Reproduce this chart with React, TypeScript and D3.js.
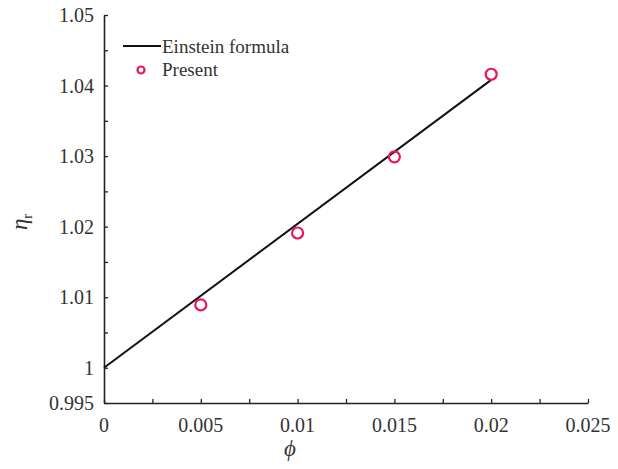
import React, { useEffect, useRef } from 'react';
import * as d3 from 'd3';

// Einstein formula line (endpoints)
const lineData: [number, number][] = [
  [0, 1.0],
  [0.02, 1.0408],
];

// Present results
const presentPhi = [0.005, 0.01, 0.015, 0.02];
const presentEta = [1.0089, 1.0191, 1.0299, 1.0416];

const xTicks = [0, 0.005, 0.01, 0.015, 0.02, 0.025];
const xTickLabels = ['0', '0.005', '0.01', '0.015', '0.02', '0.025'];
const yTicks = [0.995, 1, 1.01, 1.02, 1.03, 1.04, 1.05];
const yTickLabels = ['0.995', '1', '1.01', '1.02', '1.03', '1.04', '1.05'];

const App = () => {
  const svgRef = useRef<SVGSVGElement>(null);

  useEffect(() => {
    const W = 618;
    const H = 469;
    const margin = { top: 15, right: 30, bottom: 66, left: 104 };
    const width = W - margin.left - margin.right;
    const height = H - margin.top - margin.bottom;
    const font = 'Liberation Serif, Times New Roman, serif';
    const red = '#e8175d';

    const svg = d3.select(svgRef.current).attr('width', W).attr('height', H);
    svg.selectAll('*').remove();

    const x = d3.scaleLinear().domain([0, 0.025]).range([0, width]);
    const y = d3.scaleLinear().domain([0.995, 1.05]).range([height, 0]);

    const g = svg.append('g').attr('transform', `translate(${margin.left},${margin.top})`);

    // x axis with inward ticks
    const xAxis = g
      .append('g')
      .attr('transform', `translate(0,${height})`)
      .call(
        d3
          .axisBottom(x)
          .tickValues(d3.range(0, 0.02501, 0.0025))
          .tickSize(-4)
          .tickSizeOuter(0)
          .tickFormat(() => '')
      );
    xAxis.select('.domain').attr('stroke', '#222').attr('stroke-width', 1.6);
    xAxis.selectAll('line').attr('stroke', '#222').attr('stroke-width', 1.3);

    g.selectAll('.xlab')
      .data(xTicks)
      .enter()
      .append('text')
      .attr('x', (d) => x(d))
      .attr('y', height + 29)
      .attr('text-anchor', 'middle')
      .style('font-family', font)
      .style('font-size', '20px')
      .attr('fill', '#333')
      .text((d, i) => xTickLabels[i]);

    // y axis with inward ticks
    const yAxis = g
      .append('g')
      .call(
        d3
          .axisLeft(y)
          .tickValues(d3.range(0.995, 1.05001, 0.005))
          .tickSize(-4)
          .tickSizeOuter(0)
          .tickFormat(() => '')
      );
    yAxis.select('.domain').attr('stroke', '#222').attr('stroke-width', 1.6);
    yAxis.selectAll('line').attr('stroke', '#222').attr('stroke-width', 1.3);

    g.selectAll('.ylab')
      .data(yTicks)
      .enter()
      .append('text')
      .attr('x', -10)
      .attr('y', (d) => y(d))
      .attr('dy', '0.35em')
      .attr('text-anchor', 'end')
      .style('font-family', font)
      .style('font-size', '20px')
      .attr('fill', '#333')
      .text((d, i) => yTickLabels[i]);

    // Einstein line
    const line = d3
      .line<[number, number]>()
      .x((d) => x(d[0]))
      .y((d) => y(d[1]));
    g.append('path')
      .datum(lineData)
      .attr('d', line)
      .attr('fill', 'none')
      .attr('stroke', '#111')
      .attr('stroke-width', 2);

    // Present points
    g.selectAll('.pt')
      .data(presentPhi)
      .enter()
      .append('circle')
      .attr('cx', (d) => x(d))
      .attr('cy', (d, i) => y(presentEta[i]))
      .attr('r', 5.5)
      .attr('fill', 'none')
      .attr('stroke', red)
      .attr('stroke-width', 2.2);

    // legend
    const lg = svg.append('g');
    lg.append('line')
      .attr('x1', 123)
      .attr('x2', 161)
      .attr('y1', 46)
      .attr('y2', 46)
      .attr('stroke', '#111')
      .attr('stroke-width', 2);
    lg.append('text')
      .attr('x', 162)
      .attr('y', 53)
      .style('font-family', font)
      .style('font-size', '19px')
      .attr('fill', '#333')
      .text('Einstein formula');
    lg.append('circle')
      .attr('cx', 141)
      .attr('cy', 70)
      .attr('r', 3.5)
      .attr('fill', 'none')
      .attr('stroke', red)
      .attr('stroke-width', 2.2);
    lg.append('text')
      .attr('x', 162)
      .attr('y', 76)
      .style('font-family', font)
      .style('font-size', '19px')
      .attr('fill', '#333')
      .text('Present');

    // axis titles
    svg
      .append('text')
      .attr('x', 290)
      .attr('y', 456)
      .attr('text-anchor', 'middle')
      .style('font-family', font)
      .style('font-style', 'italic')
      .style('font-size', '23px')
      .attr('fill', '#333')
      .text('ϕ');

    const yt = svg
      .append('text')
      .attr('transform', 'translate(27,222) rotate(-90)')
      .attr('text-anchor', 'middle')
      .style('font-family', font)
      .style('font-style', 'italic')
      .style('font-size', '23px')
      .attr('fill', '#333');
    yt.append('tspan').text('η');
    yt.append('tspan').style('font-size', '14px').attr('dy', 5).style('font-style', 'normal').text('r');
  }, []);

  return (
    <div style={{ margin: -8 }}>
      <svg ref={svgRef}></svg>
    </div>
  );
};

export default App;
